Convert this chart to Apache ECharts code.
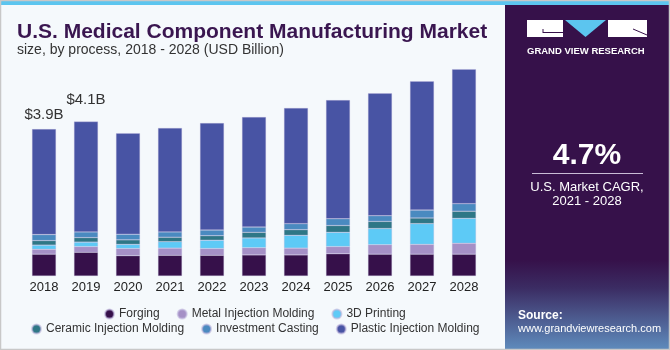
<!DOCTYPE html>
<html>
<head>
<meta charset="utf-8">
<script src="https://cdn.jsdelivr.net/npm/echarts@6/dist/echarts.min.js"></script>
<style>
  html, body { margin: 0; padding: 0; background: #f5f9fc; }
  #main { width: 670px; height: 350px; }
</style>
</head>
<body>
<div id="main"></div>
<script>
// 年份
var years = ["2018", "2019", "2020", "2021", "2022", "2023", "2024", "2025", "2026", "2027", "2028"];
// 各工艺数值 (USD Billion)
var forging = [0.58, 0.63, 0.54, 0.55, 0.55, 0.56, 0.56, 0.59, 0.58, 0.58, 0.58];
var metalInjection = [0.13, 0.15, 0.19, 0.19, 0.18, 0.19, 0.18, 0.19, 0.25, 0.26, 0.29];
var printing3d = [0.11, 0.12, 0.11, 0.17, 0.22, 0.26, 0.34, 0.38, 0.43, 0.55, 0.66];
var ceramicInjection = [0.12, 0.12, 0.12, 0.12, 0.12, 0.15, 0.15, 0.18, 0.19, 0.15, 0.19];
var investmentCasting = [0.16, 0.15, 0.15, 0.14, 0.15, 0.14, 0.16, 0.18, 0.15, 0.21, 0.20];
var plasticInjection = [2.80, 2.93, 2.68, 2.76, 2.84, 2.92, 3.07, 3.15, 3.25, 3.42, 3.57];
// 柱顶标签
var totalLabels = ["$3.9B", "$4.1B"];
var labelDistance = [7, 14];

var names = ["Forging", "Metal Injection Molding", "3D Printing",
  "Ceramic Injection Molding", "Investment Casting", "Plastic Injection Molding"];
var colors = ["#36104a", "#a590c6", "#5dcaf6", "#2e7786", "#4a8ac0", "#4854a4"];
var values = [forging, metalInjection, printing3d, ceramicInjection, investmentCasting, plasticInjection];

var myChart = echarts.init(document.getElementById("main"));

var series = [];
for (var j = 0; j < values.length; j++) {
  var data = values[j].slice();
  if (j === values.length - 1) {
    // 只给前两年显示总额
    data = data.map(function (v, i) {
      if (i < totalLabels.length) {
        return {
          value: v,
          label: {
            show: true,
            position: "top",
            distance: labelDistance[i],
            formatter: totalLabels[i],
            color: "#333",
            fontSize: 15,
            fontFamily: "Liberation Sans, Arial, sans-serif"
          }
        };
      }
      return v;
    });
  }
  series.push({
    name: names[j],
    type: "bar",
    stack: "total",
    barWidth: 24,
    itemStyle: {
      color: colors[j],
      borderColor: "rgba(190,180,220,0.6)",
      borderWidth: 0.5
    },
    emphasis: { disabled: true },
    data: data
  });
}

var legendText = {
  color: "#333",
  fontSize: 12,
  fontFamily: "Liberation Sans, Arial, sans-serif"
};

var option = {
  backgroundColor: "#f5f9fc",
  animation: false,
  title: [
    {
      text: "U.S. Medical Component Manufacturing Market",
      left: 12,
      top: 17,
      textStyle: {
        color: "#3a1650",
        fontSize: 21,
        fontWeight: "bold",
        fontFamily: "Liberation Sans, Arial, sans-serif"
      }
    },
    {
      text: "size, by process, 2018 - 2028 (USD Billion)",
      left: 12,
      top: 38,
      textStyle: {
        color: "#333",
        fontSize: 14,
        fontWeight: "normal",
        fontFamily: "Liberation Sans, Arial, sans-serif"
      }
    }
  ],
  grid: {
    left: 23,
    right: 185,
    top: 50,
    bottom: 74
  },
  legend: [
    {
      data: names.slice(0, 3),
      left: 104,
      top: 308,
      padding: 0,
      icon: "circle",
      itemWidth: 9,
      itemHeight: 9,
      itemGap: 17,
      selectedMode: false,
      textStyle: legendText
    },
    {
      data: names.slice(3),
      left: 31,
      top: 323,
      padding: 0,
      icon: "circle",
      itemWidth: 9,
      itemHeight: 9,
      itemGap: 17,
      selectedMode: false,
      textStyle: legendText
    }
  ],
  xAxis: {
    type: "category",
    data: years,
    axisLine: { show: false },
    axisTick: { show: false },
    axisLabel: {
      color: "#222",
      fontSize: 13,
      margin: 5,
      fontFamily: "Liberation Sans, Arial, sans-serif"
    }
  },
  yAxis: {
    type: "value",
    min: 0,
    max: 6,
    show: false,
    splitLine: { show: false }
  },
  graphic: [
    // 顶部蓝条
    { type: "rect", shape: { x: 0, y: 0, width: 670, height: 5 }, style: { fill: "#5cc5ef" }, z: 10 },
    // 右侧面板
    {
      type: "rect",
      shape: { x: 505, y: 5, width: 165, height: 345 },
      style: {
        fill: new echarts.graphic.LinearGradient(0, 0, 0, 1, [
          { offset: 0, color: "#36114a" },
          { offset: 0.74, color: "#36114a" },
          { offset: 0.82, color: "#3b2c63" },
          { offset: 1, color: "#5f8cbd" }
        ])
      },
      z: 5
    },
    // logo
    { type: "rect", shape: { x: 527, y: 20, width: 36, height: 17 }, style: { fill: "#ffffff" }, z: 6 },
    { type: "rect", shape: { x: 608, y: 20, width: 39, height: 17 }, style: { fill: "#ffffff" }, z: 6 },
    { type: "polygon", shape: { points: [[565, 20], [606, 20], [585.5, 37]] }, style: { fill: "#5cc5ef" }, z: 6 },
    { type: "line", shape: { x1: 543, y1: 32.5, x2: 563, y2: 32.5 }, style: { stroke: "#36114a", lineWidth: 1 }, z: 7 },
    { type: "line", shape: { x1: 543, y1: 29, x2: 543, y2: 33 }, style: { stroke: "#36114a", lineWidth: 1 }, z: 7 },
    { type: "line", shape: { x1: 633, y1: 29, x2: 647, y2: 35 }, style: { stroke: "#36114a", lineWidth: 1 }, z: 7 },
    {
      type: "text", left: 527, top: 46,
      style: { text: "GRAND VIEW RESEARCH", fill: "#ffffff", font: "bold 9.5px Liberation Sans, Arial, sans-serif" },
      z: 7
    },
    {
      type: "text", x: 587, y: 156,
      style: { text: "4.7%", fill: "#ffffff", font: "bold 30px Liberation Sans, Arial, sans-serif", align: "center", verticalAlign: "middle" },
      z: 7
    },
    { type: "line", shape: { x1: 532, y1: 173.5, x2: 643, y2: 173.5 }, style: { stroke: "#c9bcd6", lineWidth: 1 }, z: 7 },
    {
      type: "text", x: 587, y: 187,
      style: { text: "U.S. Market CAGR,", fill: "#ffffff", font: "13px Liberation Sans, Arial, sans-serif", align: "center", verticalAlign: "middle" },
      z: 7
    },
    {
      type: "text", x: 587, y: 201,
      style: { text: "2021 - 2028", fill: "#ffffff", font: "13px Liberation Sans, Arial, sans-serif", align: "center", verticalAlign: "middle" },
      z: 7
    },
    {
      type: "text", x: 518, y: 316,
      style: { text: "Source:", fill: "#ffffff", font: "bold 12px Liberation Sans, Arial, sans-serif", verticalAlign: "middle" },
      z: 7
    },
    {
      type: "text", x: 518, y: 329,
      style: { text: "www.grandviewresearch.com", fill: "#ffffff", font: "11px Liberation Sans, Arial, sans-serif", verticalAlign: "middle" },
      z: 7
    },
    // 外框
    { type: "rect", shape: { x: 0.5, y: 0.5, width: 669, height: 349 }, style: { fill: "none", stroke: "#c8c8c8", lineWidth: 1.5 }, z: 20 }
  ],
  series: series
};

myChart.setOption(option, true);
</script>
</body>
</html>
